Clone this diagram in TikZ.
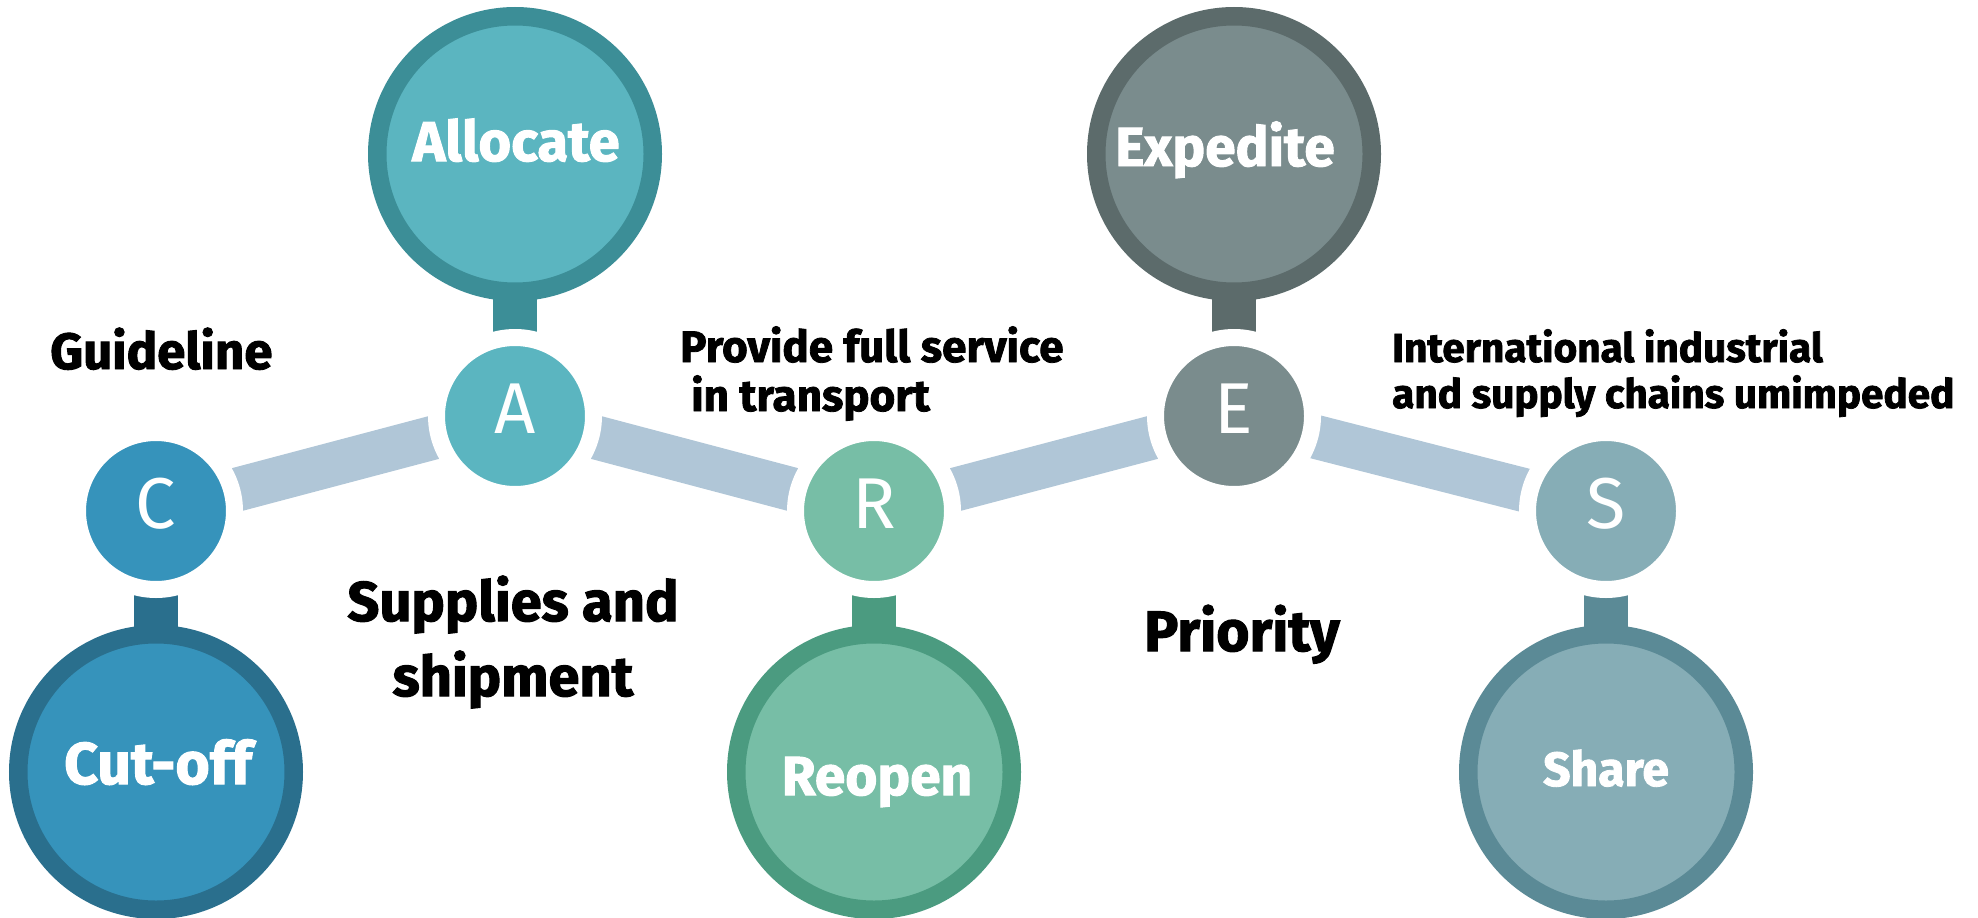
\documentclass[tikz,border=0pt]{standalone}
\usepackage{fontspec}
\setmainfont{Fira Sans}
\newfontfamily\heavyfont{Fira Sans}[UprightFeatures={FakeBold=0}, BoldFeatures={FakeBold=1.8}]
\newfontfamily\lightfont{Fira Sans}
\usetikzlibrary{backgrounds}
\definecolor{cfill}{HTML}{3693BB}\definecolor{cdark}{HTML}{2A6F8D}
\definecolor{afill}{HTML}{5BB5C0}\definecolor{adark}{HTML}{3C8E97}
\definecolor{rfill}{HTML}{77BEA6}\definecolor{rdark}{HTML}{4B9B80}
\definecolor{efill}{HTML}{7A8C8D}\definecolor{edark}{HTML}{5C6B6B}
\definecolor{sfill}{HTML}{86ADB6}\definecolor{sdark}{HTML}{5B8A96}
\definecolor{barc}{HTML}{B0C6D7}
\begin{document}
\begin{tikzpicture}[x=1pt,y=-1pt,
  small/.style={circle, minimum size=157pt, inner sep=0pt, draw=white, line width=17pt},
  big/.style={circle, minimum size=275.5pt, inner sep=0pt, line width=18.5pt},
  bar/.style={line width=44pt, draw=barc},
  stem/.style={line width=44pt},
  letter/.style={text=white, font=\lightfont\fontsize{72}{72}\selectfont, anchor=base, inner sep=0pt},
  biglabel/.style={text=white, anchor=base, inner sep=0pt},
  caption/.style={text=black, inner sep=0pt, anchor=base west},
]
\useasboundingbox (0,0) rectangle (1978,918);
% small circles
\node[small, fill=cfill] (C) at (156,511) {};
\node[small, fill=afill] (A) at (515,416) {};
\node[small, fill=rfill] (R) at (874,511) {};
\node[small, fill=efill] (E) at (1234,416) {};
\node[small, fill=sfill] (S) at (1606,511) {};
\node[letter] (Ct) at (156,528) {C};
\node[letter] (At) at (515,433) {A};
\node[letter] (Rt) at (874,528) {R};
\node[letter] (Et) at (1234,433) {E};
\node[letter] (St) at (1606,528) {S};
% big circles
\node[big, draw=cdark, fill=cfill] (Cb) at (156,772) {};
\node[big, draw=adark, fill=afill] (Ab) at (515,154) {};
\node[big, draw=rdark, fill=rfill] (Rb) at (874,772) {};
\node[big, draw=edark, fill=efill] (Eb) at (1234,154) {};
\node[big, draw=sdark, fill=sfill] (Sb) at (1606,772) {};
\node[biglabel, font=\heavyfont\bfseries\fontsize{59}{59}\selectfont] (Cl) at (158,784) {Cut-off};
\node[biglabel, font=\heavyfont\bfseries\fontsize{56}{56}\selectfont] (Al) at (516,161) {Allocate};
\node[biglabel, font=\heavyfont\bfseries\fontsize{55}{55}\selectfont] (Rl) at (877,795) {Reopen};
\node[biglabel, font=\heavyfont\bfseries\fontsize{55}{55}\selectfont] (El) at (1225,166) {Expedite};
\node[biglabel, font=\heavyfont\bfseries\fontsize{48}{48}\selectfont] (Sl) at (1606,786) {Share};
% connectors
\begin{scope}[on background layer]
\draw[bar] (C.center) -- (A.center) -- (R.center) -- (E.center) -- (S.center);
\draw[stem, draw=cdark] (C.center) -- (Cb.center);
\draw[stem, draw=adark] (A.center) -- (Ab.center);
\draw[stem, draw=rdark] (R.center) -- (Rb.center);
\draw[stem, draw=edark] (E.center) -- (Eb.center);
\draw[stem, draw=sdark] (S.center) -- (Sb.center);
\end{scope}
% captions
\node[caption, font=\heavyfont\bfseries\fontsize{51}{51}\selectfont] (g) at (50,369) {Guideline};
\node[caption, anchor=base, font=\heavyfont\bfseries\fontsize{56}{56}\selectfont] (s1) at (513,621) {Supplies and};
\node[caption, anchor=base, font=\heavyfont\bfseries\fontsize{56}{56}\selectfont] (s2) at (513,696) {shipment};
\node[caption, font=\heavyfont\bfseries\fontsize{44}{44}\selectfont] (p1) at (680,362) {Provide full service};
\node[caption, font=\heavyfont\bfseries\fontsize{44}{44}\selectfont] (p2) at (691,411) {in transport};
\node[caption, font=\heavyfont\bfseries\fontsize{40.5}{40.5}\selectfont] (i1) at (1392,362) {International industrial};
\node[caption, font=\heavyfont\bfseries\fontsize{40.5}{40.5}\selectfont] (i2) at (1392,408) {and supply chains umimpeded};
\node[caption, font=\heavyfont\bfseries\fontsize{57}{57}\selectfont] (pr) at (1144,651) {Priority};
\end{tikzpicture}
\end{document}
